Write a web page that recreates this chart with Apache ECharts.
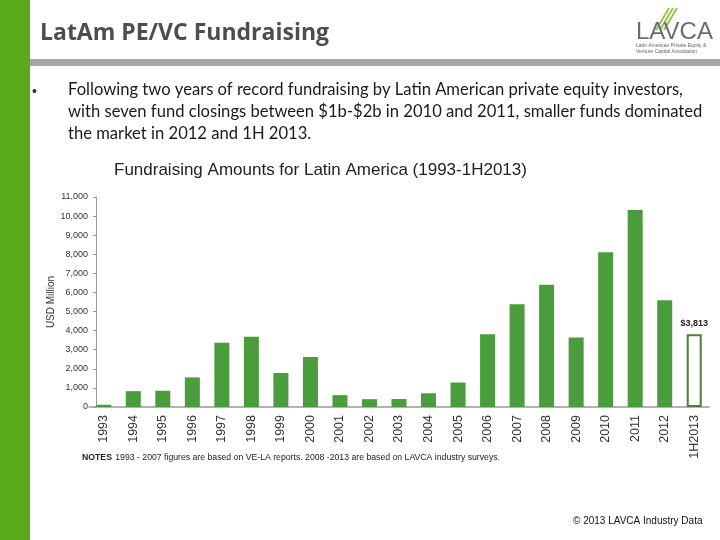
<!DOCTYPE html>
<html><head><meta charset="utf-8">
<script src="https://cdn.jsdelivr.net/npm/echarts@6/dist/echarts.min.js"></script>
<style>html,body{margin:0;padding:0;background:#fff}#c{width:720px;height:540px}</style>
</head><body><div id="c"></div>
<script>
var categories = ['1993','1994','1995','1996','1997','1998','1999','2000','2001','2002','2003','2004','2005','2006','2007','2008','2009','2010','2011','2012','1H2013'];
var amounts = [120,830,850,1550,3360,3680,1780,2620,620,410,420,720,1280,3810,5380,6410,3640,8100,10320,5590,3813];
var highlightIndex = 20;
var highlightLabel = '$3,813';
var yMin = 0, yMax = 11000, yInterval = 1000;

var chart = echarts.init(document.getElementById('c'), null, {renderer:'canvas'});
var barData = amounts.map(function(v,i){
  if (i === highlightIndex) {
    return {value:v, itemStyle:{color:'#ffffff', borderColor:'#4f7d3e', borderWidth:2},
      label:{show:true, position:'top', formatter:highlightLabel, fontFamily:'Arial', fontWeight:'bold', fontSize:9, color:'#222', distance:6}};
  }
  return v;
});
chart.setOption({
  animation:false,
  backgroundColor:'#ffffff',
  graphic:[
    {type:'rect', shape:{x:0,y:0,width:30,height:540}, style:{fill:'#5aaa1e'}},
    {type:'rect', shape:{x:30,y:59,width:690,height:7}, style:{fill:'#a6a6a6'}},
    {type:'text', x:40, y:22, style:{text:'LatAm PE/VC Fundraising', font:'bold 23px "Open Sans"', fill:'#4d4d4d'}},
    {type:'text', x:32, y:85, style:{text:'•', font:'14px Arial', fill:'#333'}},
    {type:'text', x:68, y:79, style:{text:'Following two years of record fundraising by Latin American private equity investors,\nwith seven fund closings between $1b-$2b in 2010 and 2011, smaller funds dominated\nthe market in 2012 and 1H 2013.', font:'16.6px Lato', lineHeight:22, fill:'#1a1a1a'}},
    {type:'text', x:114, y:162, style:{text:'Fundraising Amounts for Latin America (1993-1H2013)', font:'17px Arial', fill:'#222'}},
    {type:'text', x:82, y:452, style:{rich:{b:{fontFamily:'Arial',fontWeight:'bold',fontSize:8.7,fill:'#222'}, n:{fontFamily:'Arial',fontSize:8.7,fill:'#222'}}, text:'{b|NOTES} {n|1993 - 2007 figures are based on VE-LA reports. 2008 -2013 are based on LAVCA industry surveys.}'}},
    {type:'text', x:573, y:516, style:{text:'© 2013 LAVCA Industry Data', font:'10px Arial', fill:'#111'}},
    // logo
    {type:'line', shape:{x1:656,y1:30,x2:669,y2:8}, style:{stroke:'#8cc63f', lineWidth:1.8}},
    {type:'line', shape:{x1:660,y1:30,x2:673,y2:8}, style:{stroke:'#8cc63f', lineWidth:1.8}},
    {type:'line', shape:{x1:664,y1:30,x2:677,y2:8}, style:{stroke:'#8cc63f', lineWidth:1.8}},
    {type:'text', x:636, y:20, style:{text:'LAVCA', font:'24px "Liberation Sans"', fill:'#6d6d6d'}},
    {type:'text', x:636, y:43, style:{text:'Latin American Private Equity &\nVenture Capital Association', font:'5px Arial', lineHeight:6, fill:'#666'}}
  ],
  grid:{left:89, right:11, top:197, bottom:133, containLabel:false},
  xAxis:{type:'category', data:categories, boundaryGap:true,
    axisLine:{lineStyle:{color:'#999', width:1.5}}, axisTick:{show:false},
    axisLabel:{rotate:90, interval:0, fontFamily:'Arial', fontSize:12.5, color:'#333', margin:8}},
  yAxis:{type:'value', min:yMin, max:yMax, interval:yInterval, offset:-7,
    name:'USD Million', nameLocation:'middle', nameGap:40, nameMoveOverlap:false, nameTextStyle:{fontFamily:'Arial', fontSize:10, color:'#333'},
    axisLine:{show:true, lineStyle:{color:'#999'}}, axisTick:{show:true, length:3, lineStyle:{color:'#999'}},
    splitLine:{show:false},
    axisLabel:{fontFamily:'Arial', fontSize:9, color:'#333', margin:8, formatter:function(v){return v.toLocaleString('en-US');}}},
  series:[{type:'bar', data:barData, barWidth:15, itemStyle:{color:'#4a9c3c'}}]
});
</script></body></html>
